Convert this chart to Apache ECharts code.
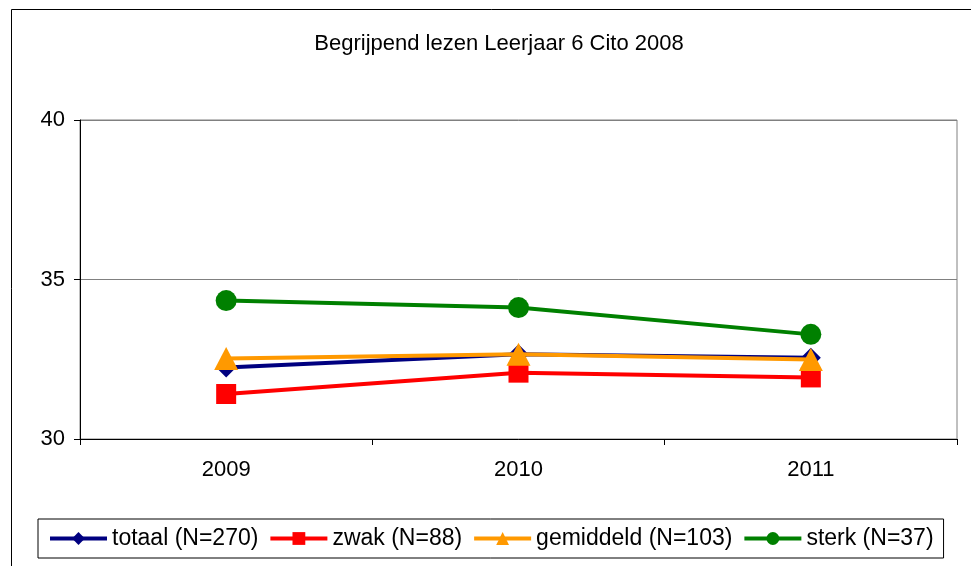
<!DOCTYPE html>
<html>
<head>
<meta charset="utf-8">
<script src="https://cdn.jsdelivr.net/npm/echarts@6/dist/echarts.min.js"></script>
<style>
html,body{margin:0;padding:0;background:#fff;}
#chart{width:971px;height:566px;}
</style>
</head>
<body>
<div id="chart"></div>
<script>
const titleText = 'Begrijpend lezen Leerjaar 6 Cito 2008';
const categories = ['2009', '2010', '2011'];
const seriesNames = ['totaal (N=270)', 'zwak (N=88)', 'gemiddeld (N=103)', 'sterk (N=37)'];
const totaal = [32.24, 32.66, 32.55];
const zwak = [31.41, 32.08, 31.93];
const gemiddeld = [32.52, 32.66, 32.49];
const sterk = [34.34, 34.12, 33.28];
const yTicks = [30, 35, 40];

const colors = ['#000080', '#FF0000', '#FF9900', '#008000'];
const symbols = ['diamond', 'rect', 'triangle', 'circle'];
const symbolSizes = [[20, 20], [20, 20], [24, 23], [21, 21]];
const dataSets = [totaal, zwak, gemiddeld, sterk];
const FONT = 'Liberation Sans, Arial, sans-serif';

const chart = echarts.init(document.getElementById('chart'), null, {renderer: 'canvas'});
chart.setOption({
  animation: false,
  backgroundColor: '#ffffff',
  title: {
    text: titleText,
    left: 494,
    textAlign: 'center',
    top: 28,
    textStyle: {fontFamily: FONT, fontSize: 22, fontWeight: 'normal', color: '#000'}
  },
  graphic: [{
    type: 'rect',
    shape: {x: 11.5, y: 9.5, width: 1000, height: 600},
    style: {fill: 'none', stroke: '#000', lineWidth: 1},
    silent: true, z: -1
  }],
  grid: {
    left: 80, right: 14, top: 120, bottom: 127,
    show: true, borderColor: '#808080', borderWidth: 1
  },
  legend: {
    left: 38, top: 519,
    padding: [8, 10, 8, 10],
    itemGap: 10,
    itemWidth: 57, itemHeight: 16,
    borderColor: '#000', borderWidth: 1,
    data: seriesNames,
    lineStyle: {width: 4},
    textStyle: {fontFamily: FONT, fontSize: 23, color: '#000'}
  },
  xAxis: {
    type: 'category',
    data: categories,
    boundaryGap: true,
    axisLine: {show: true, lineStyle: {color: '#000', width: 1}},
    axisTick: {show: true, length: 6, lineStyle: {color: '#000'}},
    axisLabel: {margin: 20, fontFamily: FONT, fontSize: 22, color: '#000'},
    splitLine: {show: false}
  },
  yAxis: {
    type: 'value',
    min: yTicks[0], max: yTicks[yTicks.length - 1], interval: 5,
    axisLine: {show: true, lineStyle: {color: '#000', width: 1}},
    axisTick: {show: true, length: 6, lineStyle: {color: '#000'}},
    axisLabel: {margin: 15, fontFamily: FONT, fontSize: 22, color: '#000'},
    splitLine: {show: true, lineStyle: {color: '#808080', width: 1}}
  },
  series: seriesNames.map((name, i) => ({
    name: name,
    type: 'line',
    data: dataSets[i],
    symbol: symbols[i],
    symbolSize: symbolSizes[i],
    showAllSymbol: true,
    itemStyle: {color: colors[i], borderWidth: 0},
    lineStyle: {color: colors[i], width: 4},
    z: 2 + i
  }))
});
</script>
</body>
</html>
